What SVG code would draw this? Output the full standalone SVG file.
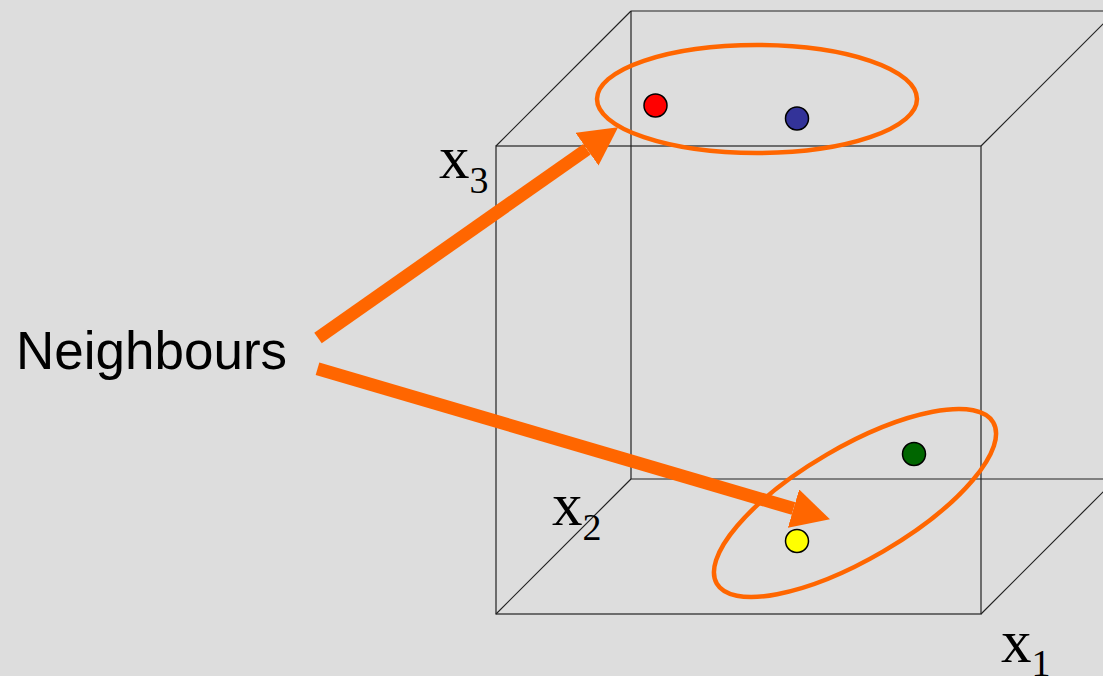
<svg xmlns="http://www.w3.org/2000/svg" width="1103" height="676" viewBox="0 0 1103 676">
<style>
.edge{stroke:#222;stroke-width:1.2;fill:none}
.ring{stroke:#FF6600;stroke-width:4.5;fill:none}
.dot{stroke:#000;stroke-width:1.5}
.arrow{stroke:#FF6600;stroke-width:13;fill:none}
.lbl{font-family:"Liberation Serif","Times New Roman",serif;font-size:61px;fill:#000}
.sub{font-size:38px}
.word{font-family:"Liberation Sans",Arial,sans-serif;font-size:53px;fill:#000}
</style>
<defs>
<marker id="head" markerUnits="userSpaceOnUse" markerWidth="40" markerHeight="40" refX="0" refY="20" orient="auto" viewBox="0 0 40 40">
<path d="M0,0 L38,20 L0,40 z" fill="#FF6600"/>
</marker>
</defs>
<rect width="1103" height="676" fill="#DDDDDD"/>
<g id="cube">
<path class="edge" d="M631,11 V479 M631,11 H1116 M631,479 H1116"/>
<rect class="edge" x="496" y="146" width="485" height="468"/>
<path class="edge" d="M496,146 L631,11 M981,146 L1116,11 M981,614 L1116,479 M496,614 L631,479"/>
</g>
<g id="cluster-top">
<ellipse class="ring" cx="757" cy="99" rx="160" ry="54"/>
<circle class="dot" cx="655.5" cy="105.5" r="11.5" fill="#FF0000"/>
<circle class="dot" cx="797" cy="118.5" r="11.5" fill="#333399"/>
</g>
<g id="cluster-bottom">
<ellipse class="ring" cx="855" cy="503" rx="160" ry="56" transform="rotate(-30.25 855 503)"/>
<circle class="dot" cx="914" cy="454" r="11.5" fill="#006600"/>
<circle class="dot" cx="797" cy="541" r="11.5" fill="#FFFF00"/>
</g>
<g id="label-neighbours">
<text class="word" x="16" y="369">Neighbours</text>
</g>
<g id="axis-labels">
<text class="lbl" x="439" y="178">x<tspan class="sub" dy="15">3</tspan></text>
<text class="lbl" x="552" y="525">x<tspan class="sub" dy="15">2</tspan></text>
<text class="lbl" x="1001" y="662">x<tspan class="sub" dy="14">1</tspan></text>
</g>
<g id="connectors">
<line class="arrow" x1="318" y1="338" x2="587" y2="149.2" marker-end="url(#head)"/>
<line class="arrow" x1="317.5" y1="368.7" x2="793.5" y2="508.6" marker-end="url(#head)"/>
</g>
</svg>
